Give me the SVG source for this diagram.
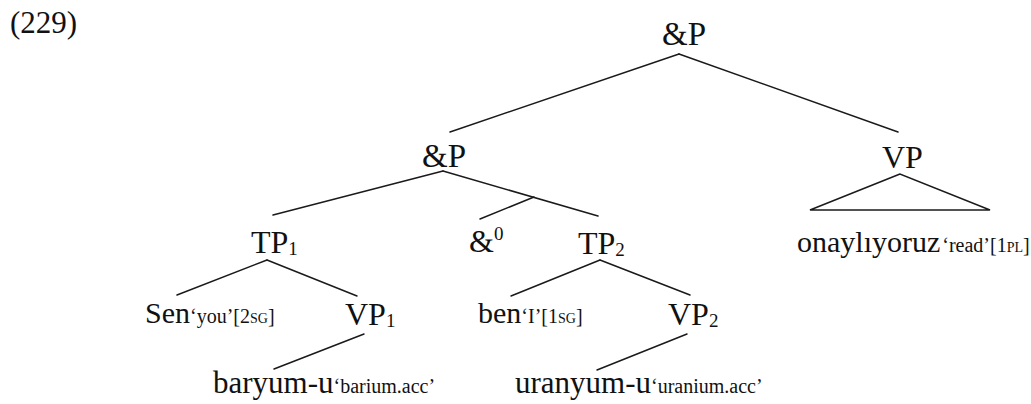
<svg xmlns="http://www.w3.org/2000/svg" width="1031" height="404" viewBox="0 0 1031 404">
<style>
text { font-family: "Liberation Serif", "Times New Roman", serif; fill: #111; }
.lab { font-size: 30px; }
.cat { font-size: 32px; }
.gl { font-size: 20px; }
.sc { font-size: 14px; }
.sub { font-size: 19px; }
.edges line, .edges polygon { stroke: #1a1a1a; stroke-width: 1.5; fill: none; stroke-linecap: round; }
</style>
<rect width="1031" height="404" fill="#fff"/>
<text class="lab" x="10" y="33" style="font-size:31px">(229)</text>
<g class="edges" id="connectors">
  <line x1="679" y1="54" x2="450" y2="132"/>
  <line x1="679" y1="54" x2="898" y2="132"/>
  <line x1="443" y1="171" x2="273" y2="215"/>
  <line x1="443" y1="171" x2="598" y2="216"/>
  <line x1="534" y1="197" x2="480" y2="219"/>
  <line x1="267" y1="260" x2="177" y2="295"/>
  <line x1="267" y1="260" x2="357" y2="296"/>
  <line x1="600" y1="260" x2="511" y2="296"/>
  <line x1="600" y1="260" x2="690" y2="295"/>
  <line x1="364" y1="334" x2="274" y2="369"/>
  <line x1="687" y1="334" x2="597" y2="370"/>
  <polygon points="900,174 810,210 990,210"/>
</g>
<g id="andP-top"><text class="cat" x="662" y="45" style="font-size:33px">&amp;P</text></g>
<g id="andP-mid"><text class="cat" x="422" y="167" style="font-size:33px">&amp;P</text></g>
<g id="VP"><text class="cat" x="882" y="168">VP</text></g>
<g id="onayliyoruz"><text class="lab" x="797" y="252">onaylıyoruz<tspan class="gl" dx="2">‘read’[1</tspan><tspan class="sc">PL</tspan><tspan class="gl">]</tspan></text></g>
<g id="TP1"><text class="cat" x="251" y="253">TP<tspan class="sub" dy="2">1</tspan></text></g>
<g id="and0"><text class="cat" x="469" y="252">&amp;<tspan class="sub" dy="-12">0</tspan></text></g>
<g id="TP2"><text class="cat" x="578" y="254">TP<tspan class="sub" dy="2">2</tspan></text></g>
<g id="Sen"><text class="lab" x="145" y="323">Sen<tspan class="gl">‘you’[2</tspan><tspan class="sc">SG</tspan><tspan class="gl">]</tspan></text></g>
<g id="VP1"><text class="cat" x="345" y="325">VP<tspan class="sub" dy="2">1</tspan></text></g>
<g id="ben"><text class="lab" x="478" y="323">ben<tspan class="gl">‘I’[1</tspan><tspan class="sc">SG</tspan><tspan class="gl">]</tspan></text></g>
<g id="VP2"><text class="cat" x="668" y="325">VP<tspan class="sub" dy="2">2</tspan></text></g>
<g id="baryum"><text class="lab" x="213" y="393" style="font-size:31px">baryum-u<tspan class="gl">‘barium.acc’</tspan></text></g>
<g id="uranyum"><text class="lab" x="515" y="393" style="font-size:31px">uranyum-u<tspan class="gl">‘uranium.acc’</tspan></text></g>
</svg>
